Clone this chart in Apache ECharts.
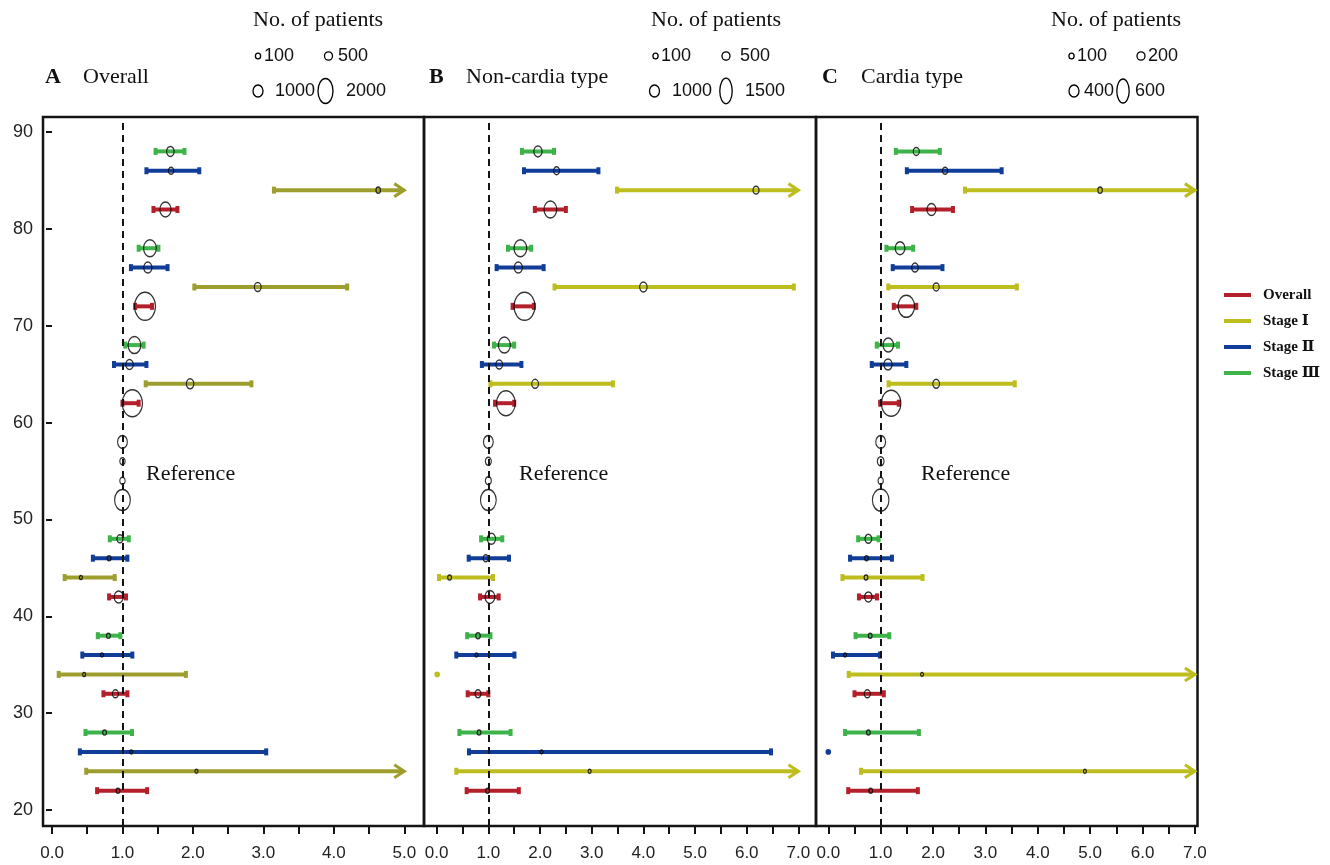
<!DOCTYPE html>
<html><head><meta charset="utf-8">
<script src="https://cdn.jsdelivr.net/npm/echarts@6/dist/echarts.min.js"></script>
<style>html,body{margin:0;padding:0;background:#fff}#c{width:1330px;height:865px}</style>
</head><body><div id="c"></div>
<script>
// ---------- data ----------
const stageNames = ['Overall', 'Stage Ⅰ', 'Stage Ⅱ', 'Stage Ⅲ'];
const yOverall  = [82, 72, 62, 52, 42, 32, 22];
const yStageI   = [84, 74, 64, 54, 44, 34, 24];
const yStageII  = [86, 76, 66, 56, 46, 36, 26];
const yStageIII = [88, 78, 68, 58, 48, 38, 28];
const refIndex = 3; // the "Reference" group (HR = 1)
const yTickLabels = [20, 30, 40, 50, 60, 70, 80, 90];
const xTickLabelsA = [0, 1, 2, 3, 4, 5];
const xTickLabelsBC = [0, 1, 2, 3, 4, 5, 6, 7];

// Panel A  Overall
const A_overall_est = [1.61, 1.32, 1.14, 1.00, 0.946, 0.90, 0.936];
const A_overall_lo  = [1.44, 1.18, 1.00, null, 0.81, 0.73, 0.64];
const A_overall_hi  = [1.78, 1.42, 1.23, null, 1.05, 1.07, 1.35];
const A_overall_n   = [574, 2000, 1860, 1125, 367, 163, 64];
const A_stageI_est  = [4.63, 2.92, 1.96, 1.00, 0.41, 0.456, 2.05];
const A_stageI_lo   = [3.15, 2.02, 1.33, null, 0.18, 0.095, 0.485];
const A_stageI_hi   = [6.8, 4.19, 2.83, null, 0.89, 1.90, 8.7];
const A_stageI_n    = [92, 207, 255, 125, 40, 40, 40];
const A_stageII_est = [1.69, 1.36, 1.10, 1.00, 0.81, 0.71, 1.125];
const A_stageII_lo  = [1.34, 1.12, 0.88, null, 0.58, 0.43, 0.395];
const A_stageII_hi  = [2.09, 1.64, 1.34, null, 1.07, 1.14, 3.04];
const A_stageII_n   = [125, 309, 255, 125, 64, 40, 40];
const A_stageIII_est = [1.68, 1.39, 1.17, 1.00, 0.964, 0.80, 0.746];
const A_stageIII_lo  = [1.47, 1.23, 1.04, null, 0.82, 0.65, 0.475];
const A_stageIII_hi  = [1.88, 1.51, 1.30, null, 1.09, 0.97, 1.135];
const A_stageIII_n   = [255, 737, 737, 431, 163, 64, 64];

// Panel B  Non-cardia type
const B_overall_est = [2.20, 1.70, 1.34, 1.00, 1.03, 0.80, 0.985];
const B_overall_lo  = [1.90, 1.47, 1.13, null, 0.84, 0.60, 0.58];
const B_overall_hi  = [2.50, 1.88, 1.50, null, 1.20, 1.00, 1.59];
const B_overall_n   = [553, 1500, 1196, 844, 323, 122, 48];
const B_stageI_est  = [6.18, 4.00, 1.905, 1.00, 0.25, 0.01, 2.96];
const B_stageI_lo   = [3.49, 2.28, 1.04, null, 0.045, null, 0.38];
const B_stageI_hi   = [10.9, 6.91, 3.41, null, 1.09, null, 23];
const B_stageI_n    = [122, 191, 155, 122, 48, 20, 31];
const B_stageII_est = [2.32, 1.58, 1.21, 1.00, 0.95, 0.77, 2.03];
const B_stageII_lo  = [1.69, 1.16, 0.875, null, 0.62, 0.38, 0.625];
const B_stageII_hi  = [3.13, 2.07, 1.64, null, 1.40, 1.505, 6.47];
const B_stageII_n   = [122, 231, 155, 122, 94, 31, 31];
const B_stageIII_est = [1.96, 1.62, 1.31, 1.00, 1.06, 0.80, 0.82];
const B_stageIII_lo  = [1.65, 1.38, 1.11, null, 0.86, 0.59, 0.44];
const B_stageIII_hi  = [2.27, 1.83, 1.50, null, 1.27, 1.04, 1.43];
const B_stageIII_n   = [231, 553, 490, 323, 231, 69, 48];

// Panel C  Cardia type
const C_overall_est = [1.97, 1.49, 1.20, 1.00, 0.765, 0.745, 0.81];
const C_overall_lo  = [1.60, 1.25, 0.99, null, 0.585, 0.50, 0.38];
const C_overall_hi  = [2.38, 1.68, 1.345, null, 0.93, 1.06, 1.71];
const C_overall_n   = [128, 430, 600, 430, 89, 57, 22];
const C_stageI_est  = [5.19, 2.06, 2.06, 1.00, 0.72, 1.79, 4.90];
const C_stageI_lo   = [2.61, 1.145, 1.15, null, 0.27, 0.39, 0.625];
const C_stageI_hi   = [10.3, 3.60, 3.56, null, 1.80, 8.2, 38];
const C_stageI_n    = [32, 57, 72, 43, 22, 14, 14];
const C_stageII_est = [2.23, 1.655, 1.14, 1.00, 0.73, 0.32, 0.0];
const C_stageII_lo  = [1.50, 1.23, 0.83, null, 0.415, 0.09, null];
const C_stageII_hi  = [3.31, 2.18, 1.49, null, 1.215, 0.985, null];
const C_stageII_n   = [43, 72, 107, 72, 22, 14, 10];
const C_stageIII_est = [1.68, 1.37, 1.145, 1.00, 0.765, 0.80, 0.765];
const C_stageIII_lo  = [1.29, 1.11, 0.925, null, 0.57, 0.52, 0.32];
const C_stageIII_hi  = [2.13, 1.62, 1.33, null, 0.96, 1.165, 1.73];
const C_stageIII_n   = [57, 150, 174, 150, 72, 22, 22];

// legend size labels (No. of patients)
const A_sizeLabels = ['100', '500', '1000', '2000'];
const B_sizeLabels = ['100', '500', '1000', '1500'];
const C_sizeLabels = ['100', '200', '400', '600'];

// ---------- styling / layout ----------
const SERIF = "'Liberation Serif','Times New Roman','DejaVu Serif',serif";
const SANS = "'Liberation Sans',Arial,'DejaVu Sans',sans-serif";
const INK = '#141414';
const colRed = '#B3202B', colBlue = '#0F3D97', colGreen = '#3DB34A';
const colYellowA = '#9E9E2E', colYellowBC = '#BDBD1E';

function mk(y, est, lo, hi, n) { return { y, est, lo, hi, n }; }

const panels = [
  { left: 43, width: 381, xMin: -0.128, xMax: 5.28, cap: 5, labels: xTickLabelsA, nRef: 2000, hRef: 28,
    title: 'A', name: 'Overall', titleX: 45, nameX: 83, refX: 146, sizeLabels: A_sizeLabels,
    legX: 253, glyphs: [[258, 56, 2.6, 2.9, 264], [328.5, 56, 4, 4.2, 338], [258, 91, 5, 6, 275], [325.5, 91, 7.5, 12.5, 346]],
    stages: [
      [mk(yOverall, A_overall_est, A_overall_lo, A_overall_hi, A_overall_n), colRed],
      [mk(yStageI, A_stageI_est, A_stageI_lo, A_stageI_hi, A_stageI_n), colYellowA],
      [mk(yStageII, A_stageII_est, A_stageII_lo, A_stageII_hi, A_stageII_n), colBlue],
      [mk(yStageIII, A_stageIII_est, A_stageIII_lo, A_stageIII_hi, A_stageIII_n), colGreen]
    ] },
  { left: 424, width: 392, xMin: -0.245, xMax: 7.34, cap: 7, labels: xTickLabelsBC, nRef: 1500, hRef: 28,
    title: 'B', name: 'Non-cardia type', titleX: 429, nameX: 466, refX: 519, sizeLabels: B_sizeLabels,
    legX: 651, glyphs: [[655.5, 56, 2.6, 2.9, 661], [726, 56, 4, 4.2, 740], [654.5, 91, 5, 6, 672], [726, 91, 6.2, 12.8, 745]],
    stages: [
      [mk(yOverall, B_overall_est, B_overall_lo, B_overall_hi, B_overall_n), colRed],
      [mk(yStageI, B_stageI_est, B_stageI_lo, B_stageI_hi, B_stageI_n), colYellowBC],
      [mk(yStageII, B_stageII_est, B_stageII_lo, B_stageII_hi, B_stageII_n), colBlue],
      [mk(yStageIII, B_stageIII_est, B_stageIII_lo, B_stageIII_hi, B_stageIII_n), colGreen]
    ] },
  { left: 816, width: 381.5, xMin: -0.235, xMax: 7.05, cap: 7, labels: xTickLabelsBC, nRef: 600, hRef: 26,
    title: 'C', name: 'Cardia type', titleX: 822, nameX: 861, refX: 921, sizeLabels: C_sizeLabels,
    legX: 1051, glyphs: [[1071.5, 56, 2.6, 2.9, 1077], [1141, 56, 4, 4.2, 1148], [1074, 91, 5, 6, 1084], [1123, 91, 6.2, 12], 1135].length ? [[1071.5, 56, 2.6, 2.9, 1077], [1141, 56, 4, 4.2, 1148], [1074, 91, 5, 6, 1084], [1123, 91, 6.2, 12, 1135]] : [],
    stages: [
      [mk(yOverall, C_overall_est, C_overall_lo, C_overall_hi, C_overall_n), colRed],
      [mk(yStageI, C_stageI_est, C_stageI_lo, C_stageI_hi, C_stageI_n), colYellowBC],
      [mk(yStageII, C_stageII_est, C_stageII_lo, C_stageII_hi, C_stageII_n), colBlue],
      [mk(yStageIII, C_stageIII_est, C_stageIII_lo, C_stageIII_hi, C_stageIII_n), colGreen]
    ] }
];

const GRID_TOP = 117, GRID_H = 709, Y_MIN = 18.35, Y_MAX = 91.55;

function halfTicks(max) { const t = []; for (let v = 0; v <= max + 1e-9; v += 0.5) t.push(+v.toFixed(1)); return t; }

function barRenderer(st, color, cap) {
  return function (params, api) {
    const k = params.dataIndex;
    const y = st.y[k], e = st.est[k], l = st.lo[k], h = st.hi[k];
    if (l == null) {
      if (k === refIndex) return null;
      const c = api.coord([e, y]);
      return { type: 'circle', shape: { cx: c[0], cy: c[1], r: 2.8 }, style: { fill: color } };
    }
    const arrow = h > cap;
    const a = api.coord([l, y]), b = api.coord([arrow ? cap : h, y]);
    const ch = [
      { type: 'line', shape: { x1: a[0], y1: a[1], x2: arrow ? b[0] - 1.5 : b[0], y2: b[1] }, style: { stroke: color, lineWidth: 4 } },
      { type: 'rect', shape: { x: a[0] - 2, y: a[1] - 3.5, width: 4, height: 7 }, style: { fill: color } }
    ];
    if (arrow) {
      ch.push({ type: 'polyline', shape: { points: [[b[0] - 10, b[1] - 6.5], [b[0], b[1]], [b[0] - 10, b[1] + 6.5]] },
        style: { stroke: color, lineWidth: 3, fill: null } });
    } else {
      ch.push({ type: 'rect', shape: { x: b[0] - 2, y: b[1] - 3.5, width: 4, height: 7 }, style: { fill: color } });
    }
    return { type: 'group', children: ch };
  };
}

const grid = [], xAxis = [], yAxis = [], series = [], graphic = [];
panels.forEach((p, i) => {
  grid.push({ left: p.left, top: GRID_TOP, width: p.width, height: GRID_H, show: true,
    borderColor: INK, borderWidth: 2.5, backgroundColor: 'transparent' });
  xAxis.push({ type: 'value', gridIndex: i, min: p.xMin, max: p.xMax, splitLine: { show: false },
    axisLine: { show: false },
    axisTick: { show: true, customValues: halfTicks(p.cap), length: 8, lineStyle: { color: INK, width: 2 } },
    axisLabel: { customValues: p.labels, formatter: v => Number(v).toFixed(1), fontFamily: SANS, fontSize: 17, color: '#222', margin: 19 } });
  yAxis.push({ type: 'value', gridIndex: i, min: Y_MIN, max: Y_MAX, show: i === 0, splitLine: { show: false },
    axisLine: { show: false },
    axisTick: { show: true, customValues: yTickLabels, length: 6, lineStyle: { color: INK, width: 2 } },
    axisLabel: { customValues: yTickLabels, fontFamily: SANS, fontSize: 18, color: '#222', margin: 10 } });

  p.stages.forEach(([st, color], si) => {
    series.push({ type: 'custom', name: stageNames[si], xAxisIndex: i, yAxisIndex: i, z: 2,
      encode: { x: 0, y: 1 }, renderItem: barRenderer(st, color, p.cap),
      data: st.y.map((y, k) => [st.est[k], y]) });
  });

  const ell = [];
  p.stages.forEach(([st]) => {
    st.y.forEach((y, k) => {
      if (st.lo[k] == null && k !== refIndex) return;
      ell.push([st.est[k], y, st.n[k]]);
    });
  });
  series.push({ type: 'scatter', xAxisIndex: i, yAxisIndex: i, z: 4, symbol: 'circle',
    symbolSize: v => { const h = p.hRef * Math.sqrt(v[2] / p.nRef); return [h * 0.75, h]; },
    itemStyle: { color: 'rgba(0,0,0,0)', borderColor: '#000', borderWidth: 1.3 },
    data: ell,
    markLine: { silent: true, symbol: 'none', label: { show: false }, animation: false,
      lineStyle: { type: [7, 5], color: INK, width: 2 }, data: [{ xAxis: 1 }] } });

  // titles & annotations
  graphic.push({ type: 'text', x: p.titleX, y: 77, style: { text: p.title, fill: '#111', font: 'bold 22px ' + SERIF, textVerticalAlign: 'middle', verticalAlign: 'middle' } });
  graphic.push({ type: 'text', x: p.nameX, y: 77, style: { text: p.name, fill: '#111', font: '22px ' + SERIF, textVerticalAlign: 'middle', verticalAlign: 'middle' } });
  graphic.push({ type: 'text', x: p.refX, y: 474, style: { text: 'Reference', fill: '#111', font: '22px ' + SERIF, textVerticalAlign: 'middle', verticalAlign: 'middle' } });
  graphic.push({ type: 'text', x: p.legX, y: 20, style: { text: 'No. of patients', fill: '#111', font: '22px ' + SERIF, textVerticalAlign: 'middle', verticalAlign: 'middle' } });
  p.glyphs.forEach((g, gi) => {
    graphic.push({ type: 'ellipse', shape: { cx: g[0], cy: g[1], rx: g[2], ry: g[3] }, style: { fill: 'none', stroke: '#000', lineWidth: 1.3 } });
    graphic.push({ type: 'text', x: g[4], y: g[1], style: { text: p.sizeLabels[gi], fill: '#111', font: '18px ' + SANS, textVerticalAlign: 'middle', verticalAlign: 'middle' } });
  });
});

// right-hand colour legend
const legendCols = [colRed, colYellowBC, colBlue, colGreen];
const legendY = [295, 321, 347, 373];
stageNames.forEach((nm, i) => {
  graphic.push({ type: 'line', shape: { x1: 1224, y1: legendY[i], x2: 1251, y2: legendY[i] }, style: { stroke: legendCols[i], lineWidth: 4 } });
  graphic.push({ type: 'text', x: 1263, y: legendY[i], style: { text: nm, fill: '#111', font: 'bold 15px ' + SERIF, textVerticalAlign: 'middle', verticalAlign: 'middle' } });
});

const chart = echarts.init(document.getElementById('c'), null, { renderer: 'canvas' });
chart.setOption({ backgroundColor: '#fff', animation: false, grid, xAxis, yAxis, series, graphic });
</script></body></html>
